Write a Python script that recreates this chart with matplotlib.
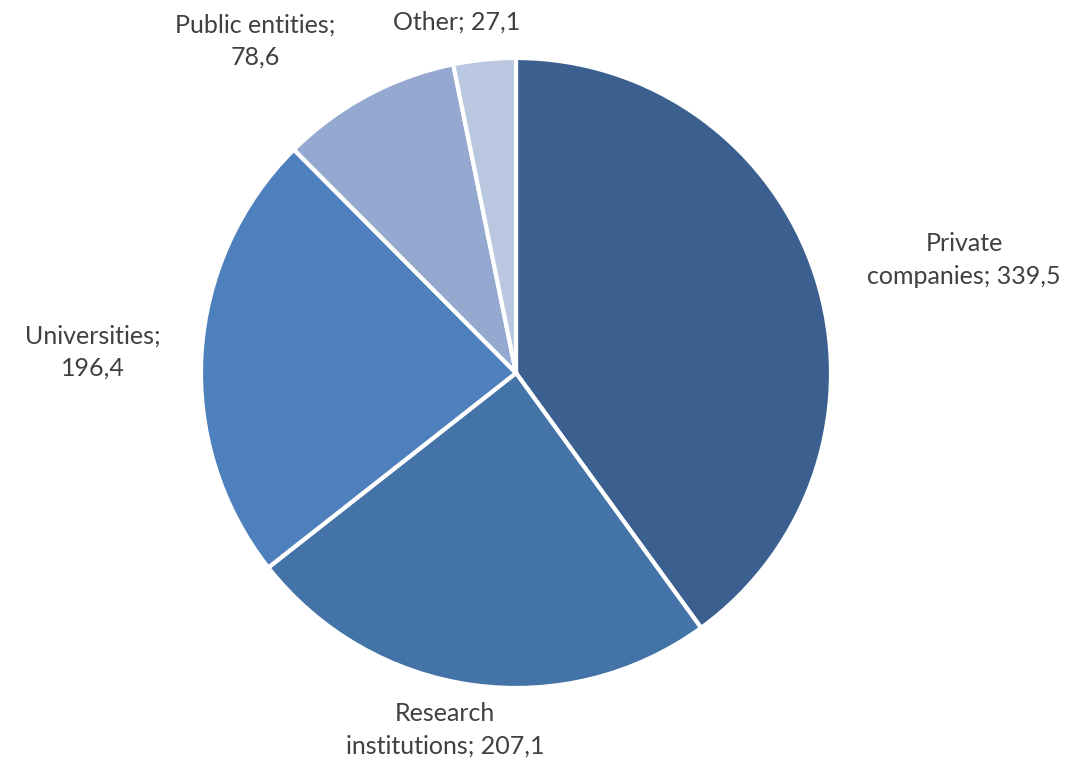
import matplotlib
matplotlib.use("Agg")
import matplotlib.pyplot as plt

# dados do gráfico
categorias = ["Private\ncompanies", "Research\ninstitutions", "Universities", "Public entities", "Other"]
valores = [339.5, 207.1, 196.4, 78.6, 27.1]
cores = ["#3B5F8E", "#4473A8", "#4D80BC", "#95A9D0", "#B9C7E1"]

# posição (px) dos rótulos na figura de 1074x764
pos_rotulos = [(964, 260), (445, 730), (93, 352), (255, 41), (457, 22)]

W, H = 1074, 764
fig = plt.figure(figsize=(W / 100, H / 100), dpi=100)
cx, cy, r = 516, 373, 315
ax = fig.add_axes([(cx - r) / W, (H - cy - r) / H, 2 * r / W, 2 * r / H])

ax.pie(valores, colors=cores, startangle=90, counterclock=False, radius=1,
       wedgeprops=dict(edgecolor="white", linewidth=3))
ax.set_xlim(-1.0, 1.0)
ax.set_ylim(-1.0, 1.0)
ax.axis("off")


def fmt(v):
    return f"{v:.1f}".replace(".", ",")


for cat, v, (px, py) in zip(categorias, valores, pos_rotulos):
    if cat == "Universities" or cat == "Public entities":
        txt = f"{cat};\n{fmt(v)}"
    else:
        txt = f"{cat}; {fmt(v)}"
    fig.text(px / W, 1 - py / H, txt, ha="center", va="center", fontsize=18,
             color="#404040", family="Lato", linespacing=1.5)

fig.savefig("out.png", dpi=100)
